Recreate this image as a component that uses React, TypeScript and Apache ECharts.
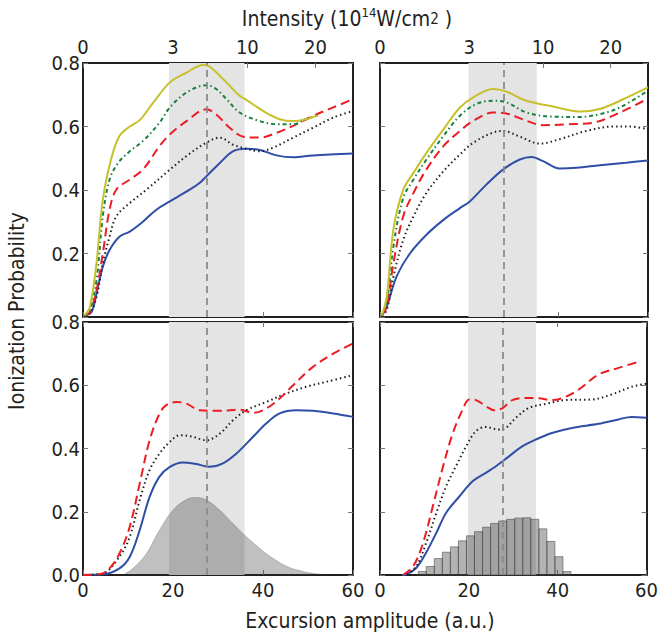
import React, { useEffect, useRef } from "react";
import * as echarts from "echarts";

// ---------- data ----------
const xTicks = [0, 20, 40, 60];
const intensityTicks = [0, 3, 10, 20]; // 10^14 W/cm^2
// intensity grows with amplitude squared; 3e14 W/cm^2 sits at 20 a.u.
const intensityPositions = intensityTicks.map((I) => 20 * Math.sqrt(I / 3));

const bandLeft = [19.1, 35.9];
const bandRight = [19.8, 35.1];
const meanLeft = 27.4;
const meanRight = 27.6;

// top-left panel
const tlYellow = [[0.3,0.005],[1.5,0.03],[3,0.17],[4.4,0.37],[6.3,0.5],[8.1,0.57],[10.4,0.6],[12.6,0.62],[15.6,0.675],[19.3,0.739],[23,0.77],[26.7,0.794],[28.1,0.789],[31.1,0.75],[34.8,0.697],[36.3,0.684],[40,0.649],[43.7,0.623],[46.7,0.617],[49.6,0.623],[52.2,0.635]];
const tlGreen = [[0.3,0.005],[1.5,0.02],[3,0.116],[4.4,0.317],[5.9,0.433],[7.8,0.485],[10.4,0.522],[13.3,0.554],[17,0.612],[19.3,0.66],[23,0.707],[27.4,0.73],[29.6,0.718],[31.9,0.686],[34.8,0.644],[39.3,0.617],[43,0.607],[46.7,0.607],[49.6,0.623],[52.2,0.635]];
const tlRed = [[0.3,0.005],[1.5,0.015],[3,0.084],[4.4,0.2],[5.9,0.338],[7.4,0.401],[10.4,0.433],[13.3,0.464],[17,0.538],[19.3,0.575],[23,0.617],[27.4,0.654],[29.6,0.638],[32.6,0.596],[35.6,0.568],[39.3,0.565],[43,0.58],[46.7,0.602],[51.1,0.633],[55.6,0.66],[60,0.686]];
const tlBlack = [[0.3,0.005],[1.5,0.012],[3,0.063],[4.4,0.169],[5.9,0.253],[7.4,0.317],[10.4,0.359],[14.1,0.401],[19.3,0.464],[23,0.507],[27.4,0.549],[30.4,0.565],[33.3,0.543],[36.3,0.53],[39.3,0.522],[42.2,0.533],[46.7,0.565],[51.1,0.596],[55.6,0.628],[60,0.649]];
const tlBlue = [[0.3,0.005],[1.9,0.016],[3,0.074],[4.4,0.158],[5.9,0.211],[8.1,0.253],[10.4,0.269],[13.3,0.3],[16.3,0.338],[19.3,0.364],[23.7,0.401],[25.9,0.422],[27.4,0.443],[30.4,0.485],[33.3,0.522],[36.3,0.53],[39.3,0.526],[43,0.509],[46.7,0.503],[51.1,0.509],[60,0.515]];

// top-right panel
const trYellow = [[0.4,0.005],[1.5,0.063],[3,0.275],[5.2,0.401],[7.5,0.454],[10.4,0.517],[14.2,0.591],[17.9,0.66],[20.9,0.692],[25.3,0.718],[28.3,0.71],[32.8,0.681],[38.7,0.663],[44.7,0.647],[49.2,0.655],[53.7,0.681],[60,0.723]];
const trGreen = [[0.4,0.005],[1.5,0.042],[3,0.222],[5.2,0.375],[7.5,0.433],[10.4,0.496],[14.2,0.57],[17.9,0.634],[21.6,0.671],[25.3,0.681],[28.3,0.676],[32.8,0.644],[38.7,0.631],[44.7,0.63],[49.2,0.639],[53.7,0.66],[60,0.713]];
const trRed = [[0.4,0.005],[1.5,0.032],[3,0.169],[5.2,0.317],[7.5,0.391],[10.4,0.465],[14.2,0.538],[17.9,0.586],[20.9,0.618],[25.3,0.644],[28.3,0.641],[32.8,0.618],[36.5,0.604],[41.7,0.607],[47.7,0.612],[53.7,0.644],[60,0.688]];
const trBlack = [[0.4,0.005],[1.5,0.021],[3,0.127],[5.2,0.243],[7.5,0.317],[10.4,0.391],[14.2,0.459],[17.9,0.512],[20.9,0.549],[25.3,0.581],[27.6,0.586],[31.3,0.568],[35.8,0.546],[40.2,0.56],[46.2,0.586],[52.2,0.6],[56,0.6],[60,0.591]];
const trBlue = [[0.4,0.005],[1.5,0.032],[3.7,0.127],[6.7,0.2],[10.4,0.259],[14.2,0.306],[17.9,0.343],[20.1,0.364],[23.8,0.417],[27.6,0.465],[31.3,0.496],[33.9,0.504],[36.5,0.491],[40.2,0.468],[44,0.47],[49.2,0.478],[55.1,0.486],[60,0.493]];

// bottom-left panel
const blRed = [[0,0],[3.7,0.002],[5.9,0.021],[8.1,0.068],[10.4,0.153],[12.6,0.289],[14.8,0.426],[17,0.51],[18.5,0.537],[20.7,0.547],[23,0.542],[25.9,0.521],[30.4,0.519],[34.8,0.523],[37.8,0.513],[40.7,0.526],[43.7,0.558],[46.7,0.6],[51.1,0.658],[55.6,0.7],[60,0.732]];
const blBlack = [[0,0],[4.4,0.005],[8.1,0.058],[10.4,0.121],[12.6,0.237],[14.8,0.332],[17,0.384],[19.3,0.421],[21.5,0.442],[24.4,0.437],[27.4,0.426],[30.4,0.447],[33.3,0.489],[36.3,0.521],[40.7,0.547],[45.2,0.574],[49.6,0.595],[54.1,0.611],[60,0.632]];
const blBlue = [[0,0],[4.4,0.002],[8.1,0.021],[10.4,0.058],[12.6,0.142],[14.8,0.247],[17,0.311],[19.3,0.342],[22.2,0.356],[25.2,0.351],[28.1,0.342],[31.1,0.353],[34.1,0.384],[37.8,0.437],[40.7,0.479],[43.7,0.511],[47.4,0.521],[51.1,0.519],[55.6,0.511],[60,0.5]];
const blDistribution = [[8.9,0],[11.1,0.021],[14.1,0.068],[17,0.142],[20,0.205],[23,0.239],[25.2,0.245],[27.4,0.237],[30.4,0.205],[33.3,0.163],[36.3,0.121],[39.3,0.084],[42.2,0.053],[45.2,0.028],[48.1,0.014],[51.1,0.005],[55.6,0]];

// bottom-right panel
const brRed = [[5.2,0],[7.5,0.028],[9.7,0.102],[11.9,0.218],[14.2,0.344],[16.4,0.449],[18.6,0.523],[20.1,0.555],[21.6,0.553],[23.8,0.534],[25.7,0.521],[27.6,0.528],[29.8,0.553],[32.8,0.56],[35.8,0.559],[38.7,0.553],[41.7,0.563],[44.7,0.586],[49.2,0.634],[53.7,0.655],[58.7,0.676]];
const brBlack = [[6,0.002],[8.2,0.028],[10.4,0.102],[12.7,0.197],[14.9,0.281],[17.1,0.344],[19.4,0.407],[21.6,0.455],[23.8,0.468],[26.8,0.46],[28.3,0.465],[30.6,0.497],[33.5,0.528],[37.3,0.541],[41.7,0.553],[47.7,0.555],[52.2,0.571],[56.6,0.595],[60,0.605]];
const brBlue = [[5,0],[6,0.002],[8.2,0.023],[10.4,0.071],[12.7,0.134],[14.9,0.197],[17.9,0.249],[20.9,0.297],[23.8,0.323],[26.1,0.344],[29.1,0.376],[32,0.407],[35,0.428],[38.7,0.449],[43.2,0.465],[49.2,0.478],[53.7,0.492],[56.6,0.5],[60,0.497]];
const histStart = 8.6;
const histBinWidth = 1.81;
const histValues = [0.011,0.027,0.052,0.072,0.089,0.108,0.124,0.137,0.151,0.163,0.171,0.176,0.18,0.181,0.176,0.146,0.106,0.058,0.011];

// ---------- styles ----------
const FONT = "'DejaVu Sans Condensed', 'Liberation Sans Narrow', 'DejaVu Sans', sans-serif";
const TXT = "#231f20";
const styles: Record<string, any> = {
  yellow: { color: "#c6c02c", type: "solid" },
  green: { color: "#18803c", type: [4, 3, 1.5, 3] },
  red: { color: "#ec1c24", type: [9, 5] },
  black: { color: "#231f20", type: [1.5, 3] },
  blue: { color: "#2f4fa6", type: "solid" },
};

const grids = [
  { left: 83, top: 63, width: 270, height: 254 },
  { left: 380, top: 63, width: 268, height: 254 },
  { left: 83, top: 322, width: 270, height: 253 },
  { left: 380, top: 322, width: 268, height: 253 },
];

export default function App() {
  const ref = useRef<HTMLDivElement>(null);
  useEffect(() => {
    if (!ref.current) return;
    const chart = echarts.init(ref.current, null, { renderer: "svg" });

    const tick = { show: true, inside: true, length: 5, lineStyle: { color: "#777", width: 1 } };
    const border = { show: true, lineStyle: { color: "#231f20", width: 2 } };
    const labelStyle = { color: TXT, fontSize: 20, fontFamily: FONT };

    const xAxis: any[] = [];
    const yAxis: any[] = [];
    grids.forEach((_, i) => {
      const isBottom = i >= 2;
      const isLeft = i % 2 === 0;
      xAxis.push({
        type: "value", gridIndex: i, position: "bottom", min: 0, max: 60, interval: 20,
        axisLine: { ...border, onZero: false }, axisTick: tick, splitLine: { show: false },
        axisLabel: { show: isBottom, ...labelStyle, margin: 5, formatter: (v: number) => String(v),
          customValues: xTicks },
      });
      if (!isBottom) {
        xAxis.push({
          type: "value", gridIndex: i, position: "top", min: 0, max: 60,
          axisLine: { ...border, onZero: false }, splitLine: { show: false },
          axisTick: { ...tick, customValues: intensityPositions },
          axisLabel: {
            ...labelStyle, margin: 6, customValues: intensityPositions,
            formatter: (v: number) => {
              const k = intensityPositions.findIndex((p) => Math.abs(p - v) < 1e-6);
              return k >= 0 ? String(intensityTicks[k]) : "";
            },
          },
        });
      } else {
        xAxis.push({
          type: "value", gridIndex: i, position: "top", min: 0, max: 60, interval: 20,
          axisLine: { ...border, onZero: false }, axisTick: tick, splitLine: { show: false },
          axisLabel: { show: false },
        });
      }
      yAxis.push({
        type: "value", gridIndex: i, position: "left", min: 0, max: 0.8, interval: 0.2,
        axisLine: { ...border, onZero: false }, axisTick: tick, splitLine: { show: false },
        axisLabel: {
          show: isLeft, ...labelStyle, margin: 3,
          formatter: (v: number) => (!isBottom && v === 0 ? "" : v.toFixed(1)),
        },
      });
      yAxis.push({
        type: "value", gridIndex: i, position: "right", min: 0, max: 0.8, interval: 0.2,
        axisLine: { ...border, onZero: false }, axisTick: tick, splitLine: { show: false },
        axisLabel: { show: false },
      });
    });

    const series: any[] = [];
    const overlay = (i: number, band: number[], mean: number) => ({
      type: "line", xAxisIndex: i * 2, yAxisIndex: i * 2, data: [[0, 0]], symbol: "none",
      lineStyle: { opacity: 0 }, z: 1, silent: true,
      markArea: { silent: true, itemStyle: { color: "#e4e4e4" }, data: [[{ xAxis: band[0] }, { xAxis: band[1] }]] },
      markLine: {
        silent: true, symbol: ["none", "none"], label: { show: false },
        lineStyle: { color: "#8c8c8c", type: [7, 5], width: 1.8 }, data: [{ xAxis: mean }],
      },
    });
    series.push(overlay(0, bandLeft, meanLeft));
    series.push(overlay(1, bandRight, meanRight));
    series.push(overlay(2, bandLeft, meanLeft));
    series.push(overlay(3, bandRight, meanRight));

    series.push({
      type: "line", xAxisIndex: 4, yAxisIndex: 4, data: blDistribution, smooth: 0.4,
      symbol: "none", lineStyle: { width: 0.8, color: "rgba(55,55,55,0.3)" },
      areaStyle: { color: "rgba(55,55,55,0.45)" }, z: 2,
    });
    series.push({
      type: "custom", xAxisIndex: 6, yAxisIndex: 6, z: 2,
      data: histValues.map((v, k) => [histStart + k * histBinWidth, histStart + (k + 1) * histBinWidth, v]),
      renderItem: (_p: any, api: any) => {
        const a = api.coord([api.value(0), api.value(2)]);
        const b = api.coord([api.value(1), 0]);
        return {
          type: "rect",
          shape: { x: a[0], y: a[1], width: b[0] - a[0], height: b[1] - a[1] },
          style: { fill: "rgba(55,55,55,0.38)", stroke: "rgba(70,70,70,0.55)", lineWidth: 1 },
        };
      },
    });

    const line = (i: number, data: number[][], s: string) => ({
      type: "line", xAxisIndex: i * 2, yAxisIndex: i * 2, data, smooth: 0.35, symbol: "none",
      lineStyle: { color: styles[s].color, type: styles[s].type, width: 2 }, z: 4,
    });
    series.push(line(0, tlBlue, "blue"), line(0, tlBlack, "black"), line(0, tlRed, "red"), line(0, tlGreen, "green"), line(0, tlYellow, "yellow"));
    series.push(line(1, trBlue, "blue"), line(1, trBlack, "black"), line(1, trRed, "red"), line(1, trGreen, "green"), line(1, trYellow, "yellow"));
    series.push(line(2, blBlue, "blue"), line(2, blBlack, "black"), line(2, blRed, "red"));
    series.push(line(3, brBlue, "blue"), line(3, brBlack, "black"), line(3, brRed, "red"));

    chart.setOption({
      animation: false,
      backgroundColor: "#ffffff",
      grid: grids,
      xAxis,
      yAxis,
      series,
      graphic: [
        {
          type: "text", x: 347, y: 19,
          style: {
            text: "Intensity (10{sup|14}W/cm{sm|2} )",
            fill: TXT, font: `21px ${FONT}`, lineHeight: 27, align: "center", verticalAlign: "middle",
            rich: {
              sup: { fontSize: 13, fontFamily: FONT, fill: TXT, verticalAlign: "top", lineHeight: 13 },
              sm: { fontSize: 15, fontFamily: FONT, fill: TXT, verticalAlign: "middle", lineHeight: 20 },
            },
          },
        },
        {
          type: "text", x: 17, y: 311, rotation: Math.PI / 2,
          style: { text: "Ionization Probability", fill: TXT, font: `21px ${FONT}`, align: "center", verticalAlign: "middle" },
        },
        {
          type: "text", x: 370, y: 621,
          style: { text: "Excursion amplitude (a.u.)", fill: TXT, font: `21px ${FONT}`, align: "center", verticalAlign: "middle" },
        },
      ],
    });
    return () => chart.dispose();
  }, []);
  return <div ref={ref} style={{ position: "absolute", left: 0, top: 0, width: 661, height: 638 }} />;
}
